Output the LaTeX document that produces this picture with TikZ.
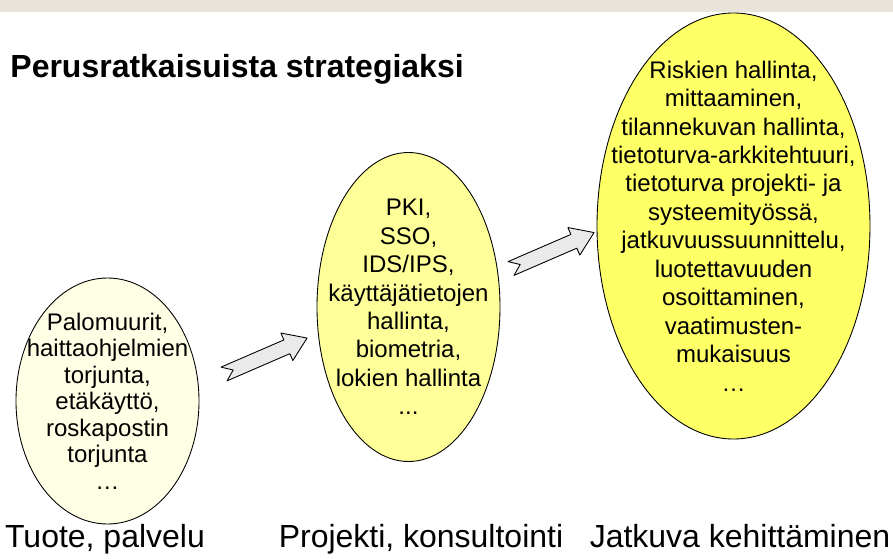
\documentclass[tikz,border=0pt]{standalone}
\usepackage{fontspec}
\setmainfont{Liberation Sans}
\usetikzlibrary{shapes.geometric}
\definecolor{bandgray}{RGB}{232,228,218}
\definecolor{paleyellow}{RGB}{255,255,230}
\definecolor{lightyellow}{RGB}{255,255,153}
\definecolor{strongyellow}{RGB}{255,255,102}
\definecolor{arrowgray}{RGB}{234,234,234}
\begin{document}
\begin{tikzpicture}[line join=round, line cap=round, line width=0.5pt]
	\tikzset{every node/.style={font=\fontsize{13.66}{16.2}\selectfont, inner sep=0pt},
		kupla/.style={ellipse, draw=black},
		teksti/.style={align=center},
		otsikko/.style={font=\fontsize{18.2}{20}\selectfont\bfseries, anchor=base west},
		vaihe/.style={font=\fontsize{18.2}{20}\selectfont, anchor=base},
		pics/nuoli/.style={code={\draw[fill=arrowgray] (0,0.15)--(1.37,0.15)--(1.37,0.3)--(1.81,0)--(1.37,-0.3)--(1.37,-0.15)--(0,-0.15)--(0.2,0)--cycle;}}}
	\useasboundingbox (0,0) rectangle (17.86,11.16);
	\fill[bandgray] (0,10.92) rectangle (17.86,11.16);
	\node[otsikko] (otsikko) at (0.2,9.62) {Perusratkaisuista strategiaksi};
	% kolme vaihetta
	\node[kupla, fill=paleyellow, minimum width=3.66cm, minimum height=4.92cm] (tuote) at (2.15,3.14) {};
	\node[kupla, fill=lightyellow, minimum width=3.66cm, minimum height=6.18cm] (projekti) at (8.17,5.02) {};
	\node[kupla, fill=strongyellow, minimum width=5.46cm, minimum height=8.52cm] (jatkuva) at (14.67,6.64) {};
	\node[teksti, font=\fontsize{13.66}{15.1}\selectfont] (tuoteteksti) at (tuote) {Palomuurit,\\haittaohjelmien\\torjunta,\\etäkäyttö,\\roskapostin\\torjunta\\…};
	\node[teksti] (projektiteksti) at (projekti) {PKI,\\SSO,\\IDS/IPS,\\käyttäjätietojen\\hallinta,\\biometria,\\lokien hallinta\\...};
	\node[teksti] (jatkuvateksti) at (jatkuva) {Riskien hallinta,\\mittaaminen,\\tilannekuvan hallinta,\\tietoturva-arkkitehtuuri,\\tietoturva projekti- ja\\systeemityössä,\\jatkuvuussuunnittelu,\\luotettavuuden\\osoittaminen,\\vaatimusten-\\mukaisuus\\…};
	\foreach \x/\y [count=\i] in {4.48/3.68,10.22/5.79}
	\pic[rotate=23.4] (nuoli\i) at (\x,\y) {nuoli};
	\foreach \x/\t [count=\i] in {2.1/{Tuote, palvelu},8.42/{Projekti, konsultointi},14.8/{Jatkuva kehittäminen}}
	\node[vaihe] (vaihe\i) at (\x,0.22) {\t};
\end{tikzpicture}
\end{document}
